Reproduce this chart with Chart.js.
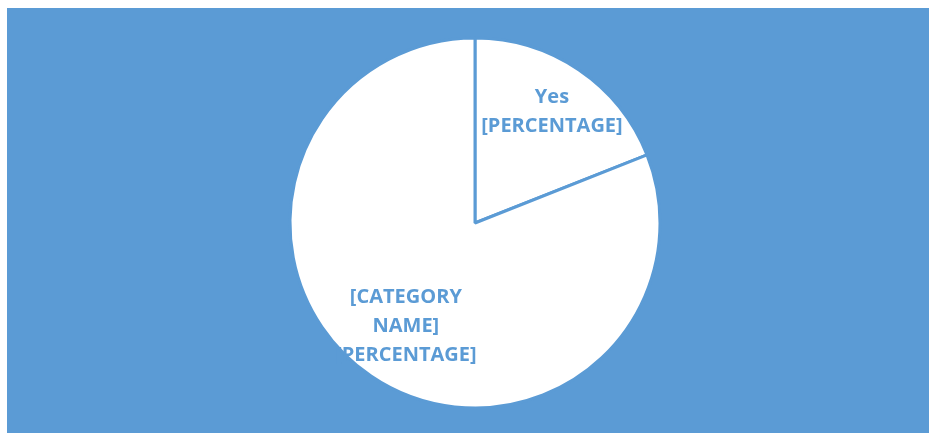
<!DOCTYPE html>
<html>
<head>
<meta charset="utf-8">
<script src="https://cdn.jsdelivr.net/npm/chart.js@4.4.1/dist/chart.umd.min.js"></script>
<style>
  html, body { margin: 0; padding: 0; background: #ffffff; }
  #wrap { position: absolute; left: 7px; top: 8px; width: 922px; height: 425px; background: #5B9BD5; }
  canvas { display: block; }
</style>
</head>
<body>
<div id="wrap"><canvas id="chart" width="922" height="425"></canvas></div>
<script>
// Survey answers
const categories = ['Yes', '[CATEGORY NAME]'];
const shares = [19, 81];
// Data label lines for each slice
const labelLines = [
  ['Yes', '[PERCENTAGE]'],
  ['[CATEGORY', 'NAME]', '[PERCENTAGE]']
];

const BLUE = '#5B9BD5';

// Draws the multi-line data labels inside each slice
const sliceLabels = {
  id: 'sliceLabels',
  afterDatasetsDraw(chart, args, opts) {
    const ctx = chart.ctx;
    const meta = chart.getDatasetMeta(0);
    ctx.save();
    ctx.fillStyle = opts.color;
    ctx.font = opts.font;
    ctx.textAlign = 'center';
    ctx.textBaseline = 'middle';
    meta.data.forEach((arc, i) => {
      const p = arc.getProps(['x', 'y', 'startAngle', 'endAngle', 'outerRadius'], true);
      const mid = (p.startAngle + p.endAngle) / 2;
      const r = p.outerRadius * opts.radiusFactor[i];
      const cx = p.x + Math.cos(mid) * r;
      const cy = p.y + Math.sin(mid) * r + opts.offsetY;
      const lines = labelLines[i];
      const top = cy - (lines.length - 1) * opts.lineHeight / 2;
      lines.forEach((t, k) => ctx.fillText(t, cx, top + k * opts.lineHeight));
    });
    ctx.restore();
  }
};

new Chart(document.getElementById('chart'), {
  type: 'pie',
  data: {
    labels: categories,
    datasets: [{
      data: shares,
      backgroundColor: '#ffffff',
      borderColor: BLUE,
      borderWidth: 3,
      borderAlign: 'center',
      radius: 185
    }]
  },
  options: {
    responsive: false,
    animation: false,
    layout: { padding: { left: 14, right: 0, top: 5, bottom: 0 } },
    plugins: {
      legend: { display: false },
      tooltip: { enabled: false },
      sliceLabels: {
        color: BLUE,
        font: 'bold 20px "Open Sans"',
        lineHeight: 29,
        offsetY: 2,
        radiusFactor: [0.74, 0.665]
      }
    }
  },
  plugins: [sliceLabels]
});
</script>
</body>
</html>
